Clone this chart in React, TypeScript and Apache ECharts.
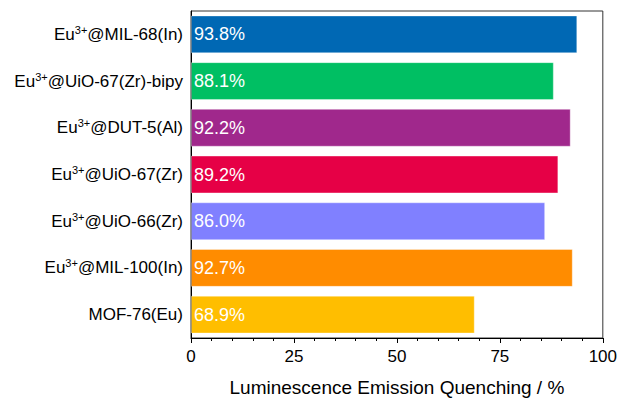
import React, { useEffect, useRef } from "react";
import * as echarts from "echarts";

const categories = [
  "Eu3+@MIL-68(In)",
  "Eu3+@UiO-67(Zr)-bipy",
  "Eu3+@DUT-5(Al)",
  "Eu3+@UiO-67(Zr)",
  "Eu3+@UiO-66(Zr)",
  "Eu3+@MIL-100(In)",
  "MOF-76(Eu)",
];
const values = [93.8, 88.1, 92.2, 89.2, 86.0, 92.7, 68.9];
const colors = ["#0068B4", "#00BF63", "#A0288C", "#E60046", "#8080FF", "#FF8C00", "#FFBE00"];
const xTicks = [0, 25, 50, 75, 100];
const axisTitle = "Luminescence Emission Quenching / %";

const FONT = "'Liberation Sans', Arial, sans-serif";

export default function App() {
  const ref = useRef<HTMLDivElement>(null);
  useEffect(() => {
    if (!ref.current) return;
    const chart = echarts.init(ref.current, null, { renderer: "svg" });
    chart.setOption({
      animation: false,
      grid: {
        left: 191,
        right: 15,
        top: 11,
        bottom: 56,
        show: true,
        borderColor: "#333",
        borderWidth: 1,
      },
      xAxis: {
        type: "value",
        min: xTicks[0],
        max: xTicks[xTicks.length - 1],
        interval: 25,
        splitLine: { show: false },
        axisLine: { show: true, lineStyle: { color: "#000", width: 1 } },
        axisTick: { show: true, length: 5, lineStyle: { color: "#000" } },
        minorTick: { show: true, splitNumber: 5, length: 3, lineStyle: { color: "#000" } },
        axisLabel: { color: "#000", fontSize: 17, fontFamily: FONT, margin: 10 },
        name: axisTitle,
        nameLocation: "middle",
        nameGap: 40,
        nameTextStyle: { color: "#000", fontSize: 19, fontFamily: FONT },
      },
      yAxis: {
        type: "category",
        inverse: true,
        data: categories,
        axisLine: { show: true, lineStyle: { color: "#000", width: 1 } },
        axisTick: { show: false },
        axisLabel: {
          margin: 8,
          formatter: (v: string) => {
            if (v.startsWith("Eu3+")) return "{a|Eu}{s|3+}{a|" + v.slice(4) + "}";
            return "{a|" + v + "}";
          },
          rich: {
            a: { color: "#000", fontSize: 17, fontFamily: FONT },
            s: { color: "#000", fontSize: 11, fontFamily: FONT, verticalAlign: "top", padding: [0, 0, 9, 0] },
          },
        },
      },
      series: [
        {
          type: "bar",
          data: values.map((v, i) => ({
            value: v,
            itemStyle: { color: colors[i], borderColor: "rgba(255,255,255,0.35)", borderWidth: 1 },
          })),
          barCategoryGap: "19%",
          label: {
            show: true,
            position: "insideLeft",
            distance: 3,
            color: "#fff",
            fontSize: 18,
            fontFamily: FONT,
            formatter: (p: any) => p.value.toFixed(1) + "%",
          },
        },
      ],
    });
    return () => chart.dispose();
  }, []);
  return <div ref={ref} style={{ position: "absolute", left: 0, top: 0, width: 620, height: 402 }} />;
}
